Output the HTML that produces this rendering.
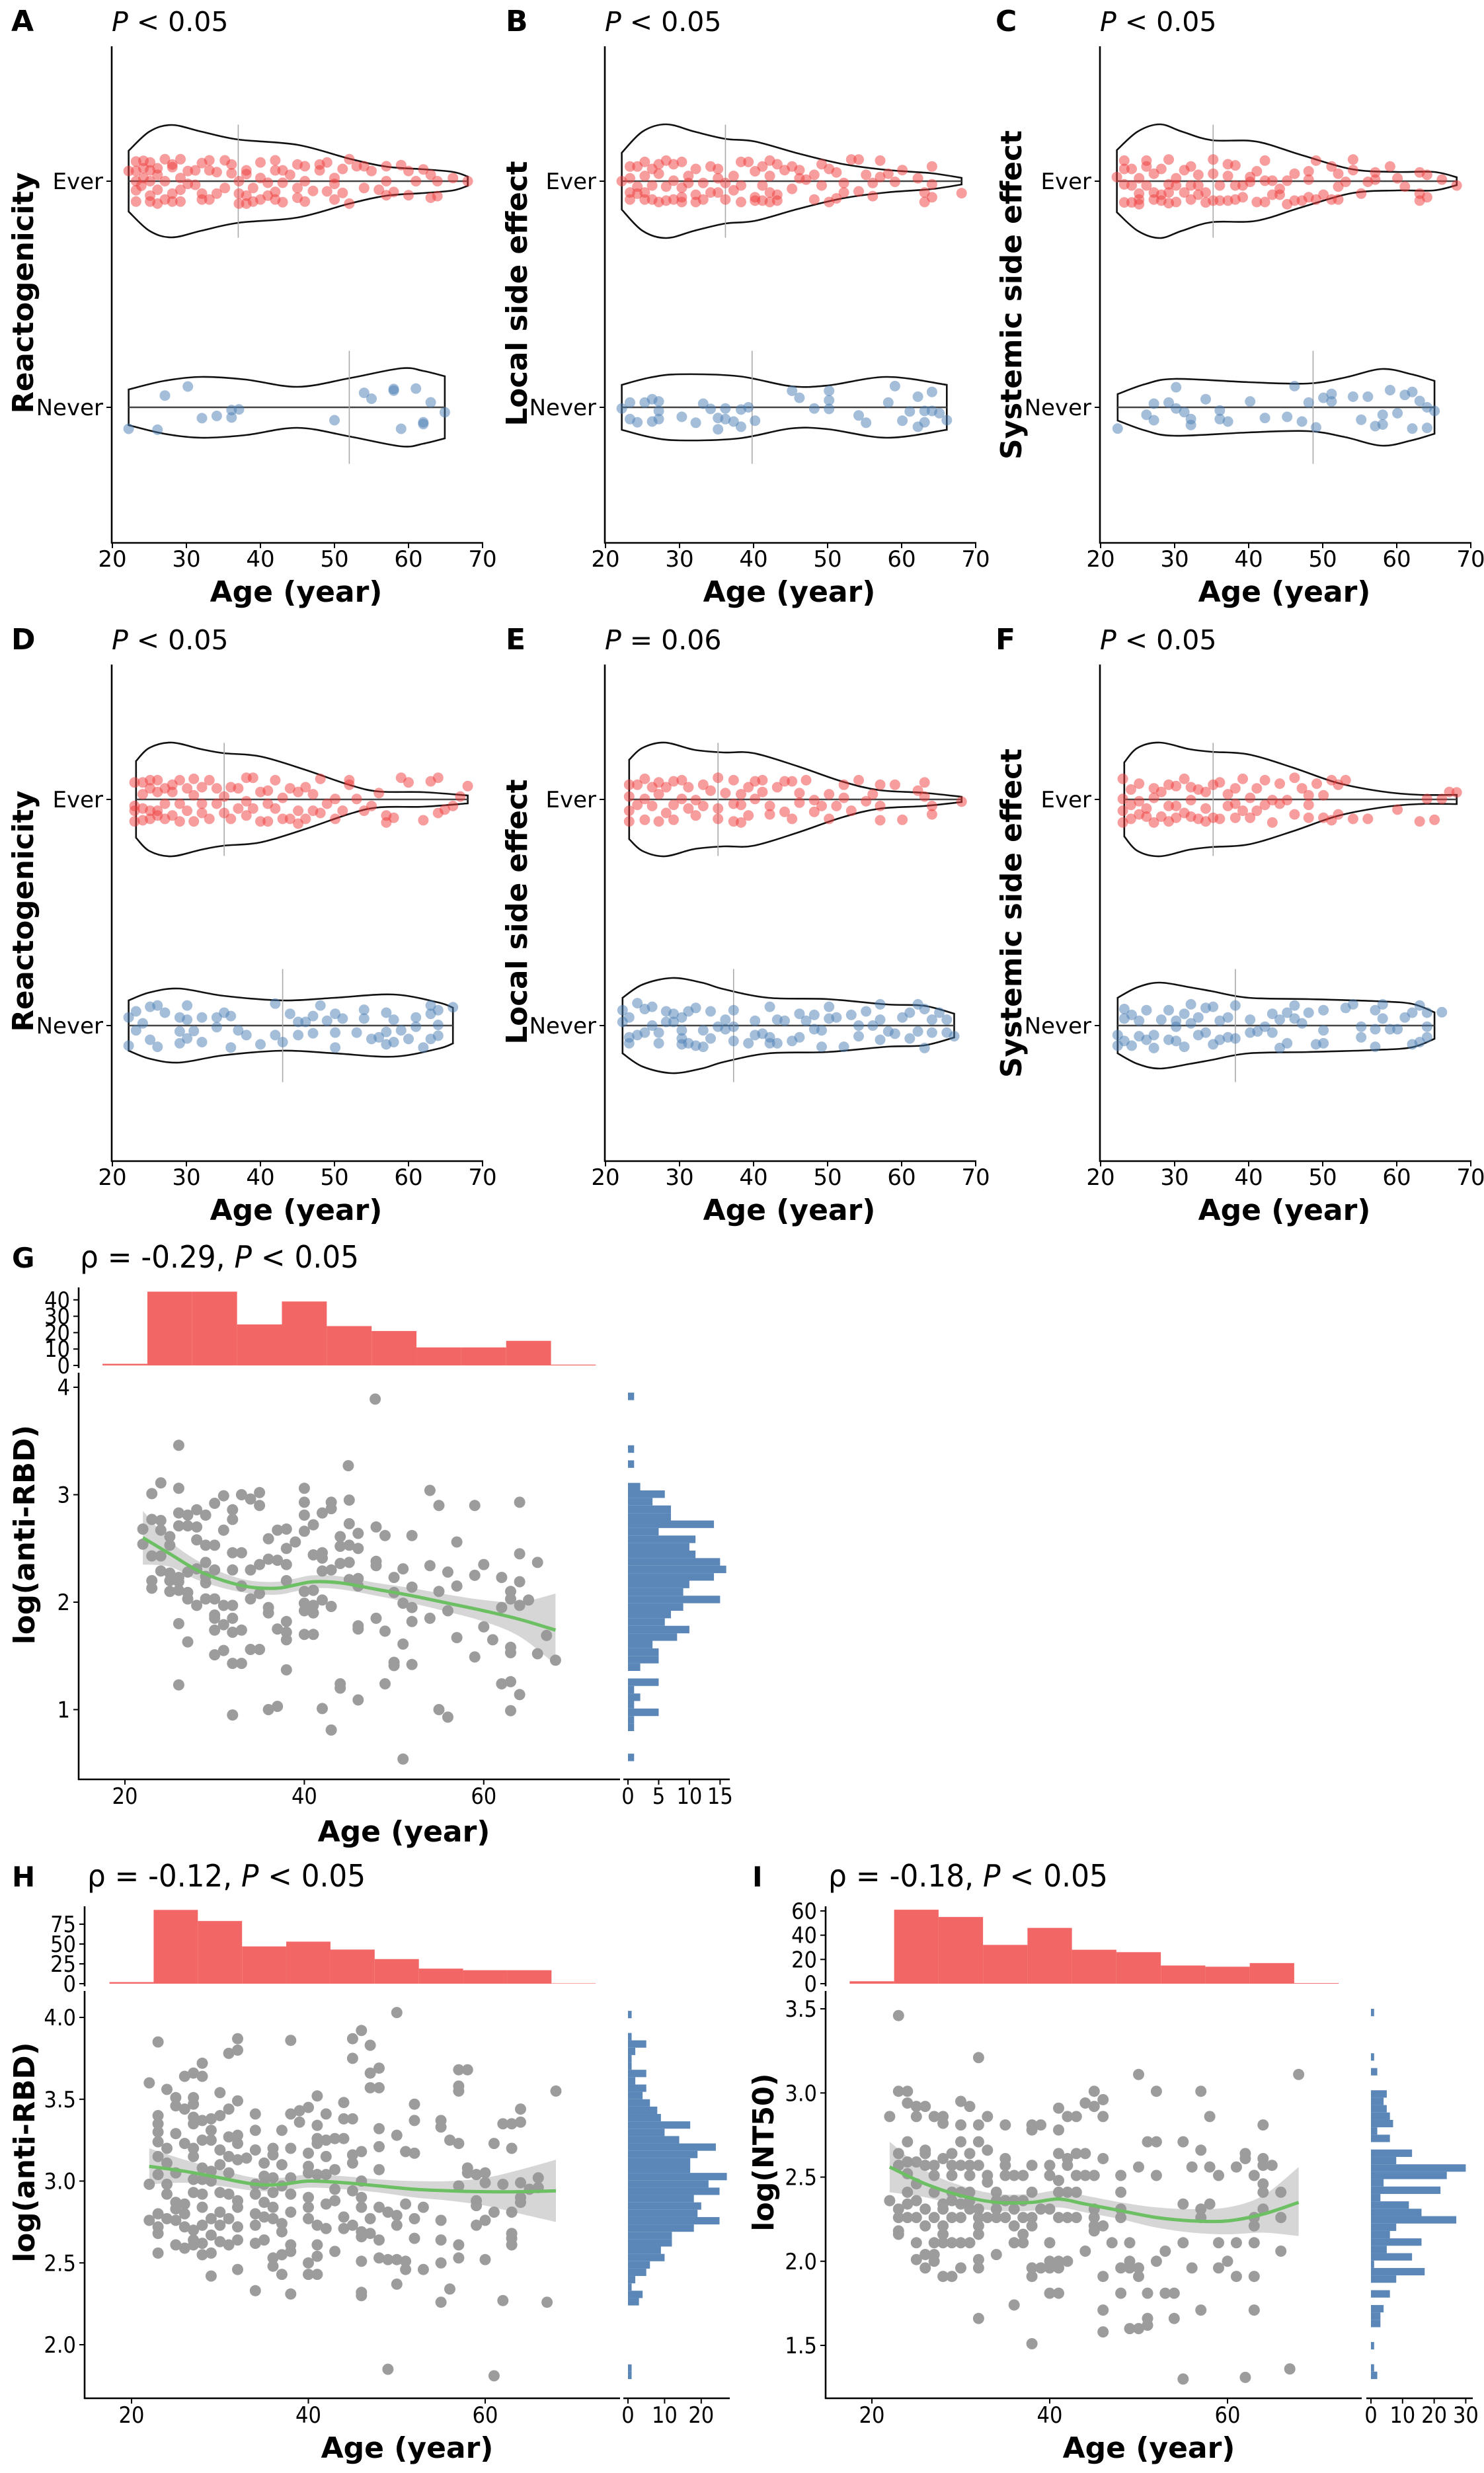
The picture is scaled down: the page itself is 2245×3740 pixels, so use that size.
<!DOCTYPE html>
<html><head><meta charset="utf-8"><title>Age vs reactogenicity and antibody figure</title>
<style>
html,body{margin:0;padding:0;background:#fff;}
svg{display:block;}
.t{font-family:"DejaVu Sans","Liberation Sans",sans-serif;fill:#000;}
.c{font-family:"DejaVu Sans Condensed","DejaVu Sans","Liberation Sans Narrow",sans-serif;font-stretch:condensed;fill:#000;}
.b{font-family:"DejaVu Sans","Liberation Sans",sans-serif;font-weight:bold;fill:#000;}
</style></head>
<body>
<svg id="fig" xmlns="http://www.w3.org/2000/svg" width="2245" height="3740" viewBox="0 0 2245 3740">
<rect x="0" y="0" width="2245" height="3740" fill="#fff"/>
<text class="b" x="17" y="47" font-size="44">A</text>
<text class="t" x="169" y="47" font-size="41"><tspan font-style="italic">P</tspan> &lt; 0.05</text>
<text class="b" x="765" y="47" font-size="44">B</text>
<text class="t" x="915" y="47" font-size="41"><tspan font-style="italic">P</tspan> &lt; 0.05</text>
<text class="b" x="1506" y="47" font-size="44">C</text>
<text class="t" x="1664" y="47" font-size="41"><tspan font-style="italic">P</tspan> &lt; 0.05</text>
<text class="b" x="17" y="982" font-size="44">D</text>
<text class="t" x="169" y="982" font-size="41"><tspan font-style="italic">P</tspan> &lt; 0.05</text>
<text class="b" x="765" y="982" font-size="44">E</text>
<text class="t" x="915" y="982" font-size="41"><tspan font-style="italic">P</tspan> = 0.06</text>
<text class="b" x="1506" y="982" font-size="44">F</text>
<text class="t" x="1664" y="982" font-size="41"><tspan font-style="italic">P</tspan> &lt; 0.05</text>
<text class="b" x="448" y="910" font-size="44" text-anchor="middle">Age (year)</text>
<text class="b" x="1194" y="910" font-size="44" text-anchor="middle">Age (year)</text>
<text class="b" x="1943" y="910" font-size="44" text-anchor="middle">Age (year)</text>
<text class="b" x="448" y="1845" font-size="44" text-anchor="middle">Age (year)</text>
<text class="b" x="1194" y="1845" font-size="44" text-anchor="middle">Age (year)</text>
<text class="b" x="1943" y="1845" font-size="44" text-anchor="middle">Age (year)</text>
<text class="b" font-size="44" text-anchor="middle" textLength="365" lengthAdjust="spacingAndGlyphs" transform="translate(50,443) rotate(-90)">Reactogenicity</text>
<text class="b" font-size="44" text-anchor="middle" textLength="401" lengthAdjust="spacingAndGlyphs" transform="translate(797,444) rotate(-90)">Local side effect</text>
<text class="b" font-size="44" text-anchor="middle" textLength="498" lengthAdjust="spacingAndGlyphs" transform="translate(1545,446) rotate(-90)">Systemic side effect</text>
<text class="b" font-size="44" text-anchor="middle" textLength="365" lengthAdjust="spacingAndGlyphs" transform="translate(50,1378) rotate(-90)">Reactogenicity</text>
<text class="b" font-size="44" text-anchor="middle" textLength="401" lengthAdjust="spacingAndGlyphs" transform="translate(797,1379) rotate(-90)">Local side effect</text>
<text class="b" font-size="44" text-anchor="middle" textLength="498" lengthAdjust="spacingAndGlyphs" transform="translate(1545,1381) rotate(-90)">Systemic side effect</text>
<text class="b" x="18" y="1917" font-size="42">G</text>
<text class="c" x="121" y="1917" font-size="46" textLength="422" lengthAdjust="spacingAndGlyphs">ρ = -0.29, <tspan font-style="italic">P</tspan> &lt; 0.05</text>
<text class="b" x="18" y="2853" font-size="42">H</text>
<text class="c" x="132" y="2853" font-size="46" textLength="421" lengthAdjust="spacingAndGlyphs">ρ = -0.12, <tspan font-style="italic">P</tspan> &lt; 0.05</text>
<text class="b" x="1138" y="2853" font-size="42">I</text>
<text class="c" x="1253" y="2853" font-size="46" textLength="423" lengthAdjust="spacingAndGlyphs">ρ = -0.18, <tspan font-style="italic">P</tspan> &lt; 0.05</text>
<text class="b" x="611" y="2785" font-size="44" text-anchor="middle">Age (year)</text>
<text class="b" x="616" y="3717" font-size="44" text-anchor="middle">Age (year)</text>
<text class="b" x="1738" y="3717" font-size="44" text-anchor="middle">Age (year)</text>
<text class="b" font-size="44" text-anchor="middle" textLength="332" lengthAdjust="spacingAndGlyphs" transform="translate(52,2321) rotate(-90)">log(anti-RBD)</text>
<text class="b" font-size="44" text-anchor="middle" textLength="333" lengthAdjust="spacingAndGlyphs" transform="translate(52,3255) rotate(-90)">log(anti-RBD)</text>
<text class="b" font-size="44" text-anchor="middle" textLength="239" lengthAdjust="spacingAndGlyphs" transform="translate(1170,3255) rotate(-90)">log(NT50)</text>
<g id="plots"></g>
</svg>
<script>
const ageTicks = [20,30,40,50,60,70];
const catLabels = ["Never","Ever"];
const aEverAge=[23.2,23.2,23.2,23.2,23.2,22.2,23.9,24.2,24.2,24.2,25.1,25.1,25.1,25.1,25.1,26.1,26.1,26.1,26.1,27.1,27.1,27.1,28.1,28.1,28.1,28.1,29.2,29.2,29.2,29.2,30.2,30.2,31.2,31.2,32.1,32.1,32.1,33.1,33.1,33.1,34.1,34.1,35.2,35.2,36.1,36.1,37.1,37.1,37.1,38.1,38.1,38.1,38.1,39,39,40,40,40,41,41,42,42,42,42,43,43,43,44,45,45,45,46,46,46,47.1,48,48,49,49,50,50,50,51.1,51.1,52,52,53,54,54,55,56,57,57,57,58,59,60,60,61,62,63,63,63.9,63.9,66,68];
const aEverJit=[-0.09,-0.04,0,0.045,0.087,0.045,-0.02,0.014,0.057,0.09,-0.09,-0.064,0,0.048,0.083,-0.099,-0.038,0.028,0.057,-0.081,0,0.097,-0.09,-0.055,0.062,0.074,-0.09,-0.038,0.014,0.097,-0.012,0.045,-0.016,0.048,-0.081,-0.055,0.08,-0.081,0.048,0.092,-0.055,0.04,-0.03,0.092,0.035,0.074,-0.099,-0.055,0,-0.099,-0.064,0.031,0.048,-0.09,-0.03,-0.081,0.014,0.083,-0.064,-0.007,-0.081,-0.047,0.048,0.092,-0.093,-0.007,0.048,0.028,-0.073,-0.03,0.074,-0.09,0,0.066,-0.043,0.048,0.074,-0.045,0.083,-0.081,-0.012,0.014,-0.052,0.054,-0.099,0.097,0.066,-0.03,0.066,0.045,-0.038,-0.062,0,0.066,-0.048,0.071,-0.062,0.045,0,0.052,-0.073,0.028,-0.066,0,0.014,0];
const aNeverAge=[22.2,26.1,27.1,30.2,32.1,34.1,36.1,36.1,37.1,50,54,55,58,58,59,61,62,62,63,64.9];
const aNeverJit=[-0.095,-0.099,0.052,0.092,-0.048,-0.038,-0.045,-0.012,-0.009,-0.057,0.064,0.038,0.074,0.081,-0.095,0.083,-0.074,-0.066,0.022,-0.022];
const aEverVAge=[22.2,25,28,32,37,45,52,57,62,66,68];
const aEverVDen=[46,75,85,75,63,55,34,22,18,14,7];
const aNeverVAge=[22.2,27,32,38,45,52,59,62,64.9];
const aNeverVDen=[27,40,46,42,31,44,59,55,47];
const aMedian=[52,37];
const bEverAge=[22.2,23.3,23.3,23.3,23.3,24.3,24.3,24.3,25.3,25.3,25.3,25.3,26.3,26.3,26.3,27.2,27.2,27.2,28.2,28.2,28.2,29.2,29.2,29.2,30.3,30.3,30.3,30.3,31.2,31.2,32.2,32.2,32.2,33.2,33.2,34.2,34.2,35.2,35.2,35.2,36.2,36.2,37.3,37.3,38.3,38.3,38.3,39.3,40.2,40.2,40.2,41.2,41.2,41.2,42.2,42.2,42.2,42.2,43.2,43.2,43.2,44.2,45.2,45.2,46.2,46.2,47.1,48.2,48.2,49.2,49.2,50.2,50.2,51.2,51.2,52.2,52.2,53.2,54.2,54.2,55.2,56.1,56.1,57.1,57.1,58.2,59.1,60.1,62.2,63.1,63.1,64.1,64.1,64.1,68.1];
const bEverJit=[0,-0.081,-0.05,0.013,0.065,-0.055,-0.024,0.065,-0.081,-0.05,0.023,0.085,-0.081,-0.019,0.054,-0.092,0.033,0.075,-0.086,-0.024,0.091,-0.081,0.002,0.075,-0.092,-0.071,-0.029,0.085,-0.008,0.023,-0.092,-0.06,0.054,-0.081,-0.008,-0.05,0.065,-0.05,0.013,0.054,-0.081,-0.008,-0.04,0.023,-0.092,-0.019,0.085,0.085,-0.086,-0.071,0.044,-0.086,-0.019,0.065,-0.092,-0.05,0.023,0.091,-0.086,-0.06,0.075,0.049,-0.034,0.065,0.013,0.049,0.007,-0.081,0.028,-0.019,0.075,-0.092,0.054,-0.076,0.039,-0.05,-0.008,0.096,-0.045,0.096,0.028,-0.066,-0.008,0.018,0.091,0.033,-0.003,0.049,0.013,-0.092,-0.05,-0.071,-0.014,0.065,-0.053];
const bNeverAge=[22.2,23.3,23.3,24.3,25.3,26.3,26.3,27.2,27.2,27.2,30.3,32.2,33.2,34.2,35.2,35.2,36.2,36.2,37.3,38.3,38.3,39.3,40.2,45.2,46.2,48.2,50.2,50.2,50.2,54.2,55.2,58.2,59.1,60.1,61.1,62.2,62.2,63.1,63.1,64.1,64.1,65.1,66.1];
const bNeverJit=[-0.005,-0.052,0.021,-0.066,0.021,-0.063,0.036,-0.052,-0.016,0.026,-0.042,-0.068,0.016,-0.007,-0.097,-0.047,-0.052,-0.005,-0.063,-0.086,-0.01,0,-0.059,0.073,0.042,-0.005,-0.007,0.031,0.073,-0.036,-0.068,0.021,0.094,-0.059,-0.018,-0.086,0.047,-0.066,-0.016,-0.016,0.068,-0.026,-0.057];
const bEverVAge=[22.2,25,28.2,32,36.2,40.2,46,52,58,64,68.1];
const bEverVDen=[43,75,86,75,64,60,42,26,17,12,5];
const bNeverVAge=[22.2,26,30,38,45,50,58,66.1];
const bNeverVDen=[34,45,50,47,32,33,46,34];
const bMedian=[39.8,36.2];
const cEverAge=[22.2,23.2,23.2,23.2,23.2,24.2,24.2,24.2,25.2,25.2,25.2,25.2,26.2,26.2,26.2,27.2,27.2,27.2,28.2,28.2,28.2,29.2,29.2,29.2,29.2,30.2,30.2,30.2,31.3,31.3,32.2,32.2,32.2,33.2,33.2,33.2,34.2,34.2,35.2,35.2,35.2,36.1,36.1,37.2,37.2,37.2,38.2,38.2,38.2,39.2,39.2,40.2,40.2,41.1,41.1,42.2,42.2,42.2,43.2,43.2,44.2,44.2,45.2,45.2,46.2,46.2,47.2,48.1,48.1,48.1,49.1,49.1,50.1,51.2,51.2,52.1,52.1,52.1,53.1,54.1,54.1,55.2,56.1,57.1,57.1,59.1,60.1,61.1,63.1,63.1,63.1,64.1,64.1,66.1,68.1];
const cEverJit=[0.018,-0.094,-0.014,0.054,0.091,-0.094,-0.019,0.054,-0.102,-0.081,-0.055,0.013,-0.019,0.065,0.091,-0.081,-0.05,0.033,-0.086,-0.06,0.054,-0.097,-0.05,-0.014,0.096,-0.092,-0.019,0.013,-0.05,0.049,-0.081,-0.019,0.065,-0.06,-0.019,0.028,-0.094,-0.05,-0.086,0.033,0.096,-0.086,-0.019,-0.086,0.023,0.075,-0.081,-0.019,0.07,-0.071,-0.019,-0.003,0.018,-0.092,0.044,-0.092,0.002,0.091,-0.06,0.002,-0.06,-0.034,-0.102,0.002,-0.086,0.033,-0.086,-0.071,0.007,0.044,-0.081,0.091,-0.06,-0.081,0.065,-0.081,-0.024,0.033,-0.003,0.049,0.096,-0.055,-0.003,0.039,0.007,0.065,0.013,-0.024,-0.086,-0.055,0.039,-0.071,0.028,0.007,-0.019];
const cNeverAge=[22.3,26.2,27.2,27.2,29.2,30.2,30.2,31.3,32.2,32.2,34.2,36.1,36.1,37.2,40.2,42.2,45.2,46.2,47.2,48.1,49.1,50.1,51.2,51.2,54.1,55.2,56.1,57.1,58.1,58.1,59.1,60.1,61.1,62.1,62.1,63.1,64.1,64.1,65.1];
const cNeverJit=[-0.094,-0.033,-0.057,0.016,0.021,-0.005,0.089,-0.021,-0.078,-0.052,0.036,-0.052,-0.014,-0.063,0.026,-0.047,-0.042,0.094,-0.063,0.021,-0.089,0.042,0.026,0.059,0.047,-0.055,0.047,-0.083,-0.076,-0.033,0.076,-0.026,0.055,-0.094,0.068,0.028,-0.091,0,-0.016];
const cEverVAge=[22.2,25,28,31,35,41,47,54,60,65,68.1];
const cEverVDen=[47,75,86,75,62,60,40,18,14,14,6];
const cNeverVAge=[22.3,26,30,40,48,53,58,62,65.1];
const cNeverVDen=[20,35,43,38,36,45,58,50,40];
const cMedian=[48.7,35.2];
const dEverAge=[23,23,23,23,24.1,24.1,24.1,24.1,25.1,25.1,25.1,25.1,26.1,26.1,26.1,26.1,27.1,27.1,27.1,28.1,28.1,28.1,29.1,29.1,29.1,30.1,30.1,31,31,31,32.1,32.1,32.1,33.1,33.1,34.1,34.1,35.1,35.1,36,36,37,37,38.1,38.1,38.1,39,39,40,40,41,41,41,42,42,43,43,44,44,45.1,45.1,45.1,46.1,46.1,47.1,47.1,48.1,48.1,49,50.1,50.1,51.1,52,52,53,54,55,56,57,57,58,59,60,62,63,64,64,64.9,66,67,68];
const dEverJit=[-0.097,-0.05,-0.029,0.075,-0.092,-0.04,0.023,0.075,-0.086,-0.05,0.049,0.085,-0.071,-0.05,0.033,0.085,-0.086,-0.019,0.049,-0.071,0.033,0.065,-0.097,-0.019,0.085,-0.05,0.049,-0.097,0.018,0.091,-0.06,-0.019,0.054,-0.086,0.085,-0.019,0.049,-0.06,0.013,-0.086,0.054,-0.04,0.049,-0.071,-0.008,0.096,-0.04,0.096,-0.097,0.033,-0.097,-0.019,0.039,-0.04,0.085,-0.086,0.007,-0.086,0.049,-0.107,-0.05,0.033,-0.086,0.054,-0.05,0.023,-0.06,0.091,-0.019,0.002,-0.086,-0.05,0.065,0.085,0.002,-0.05,-0.029,0.028,-0.102,-0.071,-0.081,0.096,0.075,-0.092,0.08,-0.06,0.096,-0.045,-0.029,0.013,0.059];
const dNeverAge=[22.2,22.2,23.2,23.2,24.1,25.1,25.1,26.1,26.1,27.1,29.1,29.1,29.1,30.1,30.1,30.1,31,32.1,32.1,34.1,34.1,35.1,36,36,37,38.1,40,42,42,43,44,45.1,45.1,46.1,47.1,47.1,48.1,49,50.1,50.1,50.1,51.1,53,54,54,55,56,57,57,57,58,58,59,60,61,61,62,63,63,63,64,64,64,66];
const dNeverJit=[-0.089,0.036,-0.021,0.063,0.01,-0.063,0.083,-0.094,0.089,0.057,-0.078,-0.026,0.036,-0.057,0.026,0.089,-0.024,-0.073,0.036,-0.007,0.036,0.057,-0.097,0.042,-0.021,-0.042,-0.083,-0.042,0.097,-0.073,0.052,-0.042,0.016,0.016,-0.034,0.042,0.089,0.021,-0.097,-0.031,0.052,0.031,-0.031,0.031,0.07,-0.059,-0.052,-0.083,-0.028,0.057,-0.073,0.026,-0.021,-0.059,-0.005,0.036,-0.097,-0.059,0.052,0.089,-0.045,0.003,0.068,0.081];
const dEverVAge=[23.2,25,28,32,35,40,46,52,56,62,68];
const dEverVDen=[58,78,86,76,70,65,45,22,12,11,6];
const dNeverVAge=[22.2,25,29,35,43,50,58,64,66];
const dNeverVDen=[38,50,56,45,38,42,47,35,27];
const dMedian=[43.0,35.1];
const eEverAge=[23.2,23.2,23.2,23.2,24.3,24.3,25.3,25.3,25.3,26.3,26.3,27.2,27.2,27.2,28.2,28.2,29.2,29.2,29.2,30.3,30.3,31.2,31.2,32.2,32.2,33.2,33.2,34.2,35.2,35.2,35.2,36.2,37.3,37.3,37.3,38.3,38.3,38.3,39.3,39.3,40.2,40.2,41.2,41.2,42.2,42.2,43.2,44.2,44.2,45.2,45.2,46.2,46.2,47.1,48.2,48.2,49.2,50.2,50.2,51.2,52.2,52.2,53.2,54.2,55.2,56.1,57.1,57.1,57.1,59.1,60.1,62.2,63.1,63.1,64.1,64.1,68.1];
const eEverJit=[-0.097,-0.05,0.013,0.065,-0.024,0.065,-0.09,0.002,0.091,-0.029,0.054,-0.097,0.023,0.075,-0.06,0.054,-0.09,-0.024,0.08,0.002,0.085,-0.04,0.054,-0.071,-0.003,-0.029,0.065,0.039,-0.086,-0.04,0.096,0.028,-0.097,-0.019,0.085,-0.102,-0.024,0.023,-0.071,0.054,0.002,0.08,0.033,0.085,-0.066,-0.029,0.054,-0.055,0.08,-0.086,0.08,-0.014,0.028,0.085,-0.055,-0.003,-0.029,-0.086,0.023,-0.029,0.007,0.065,-0.05,0.085,-0.008,0.023,-0.092,-0.029,0.065,0.065,-0.09,0.039,0.013,0.075,-0.066,-0.029,-0.01];
const eNeverAge=[22.3,22.3,23.2,23.2,23.2,24.3,24.3,25.3,25.3,26.3,26.3,27.2,27.2,28.2,28.2,29.2,29.2,30.3,30.3,30.3,30.3,31.2,31.2,32.2,32.2,33.2,33.2,34.2,34.2,35.2,36.2,36.2,37.3,37.3,37.3,39.3,40.2,40.2,41.2,42.2,42.2,42.2,43.2,43.2,44.2,45.2,46.2,46.2,47.1,48.2,48.2,49.2,49.2,50.2,50.2,51.2,52.2,53.2,54.2,54.2,55.2,56.1,57.1,57.1,57.1,58.2,59.1,60.1,61.1,61.1,62.2,62.2,63.1,63.1,64.1,64.1,65.1,66.1,66.1,67.1];
const eNeverJit=[0.016,0.068,-0.078,-0.052,0.036,-0.042,0.099,-0.031,0.073,0,0.083,-0.078,-0.031,0.016,0.063,0.016,0.052,-0.083,-0.057,-0.021,0.036,-0.078,0.063,-0.089,0.078,-0.094,-0.021,-0.057,0.063,-0.005,-0.016,0.026,-0.068,-0.005,0.068,-0.078,-0.042,0.021,-0.036,-0.078,-0.052,0.083,-0.078,0.026,0.021,-0.068,-0.052,0.052,0.021,-0.016,0.047,-0.094,-0.021,0.031,0.083,0.036,-0.094,0.047,-0.047,0,0.063,0,-0.063,0.026,0.094,-0.026,-0.036,0.036,-0.057,0.057,-0.026,0.094,-0.099,0.073,-0.031,0.026,0.057,-0.031,0.026,-0.047];
const eEverVAge=[23.2,25,28,32,36,40,46,52,57,63,68.1];
const eEverVDen=[60,78,86,75,71,70,50,27,14,10,4];
const eNeverVAge=[22.3,25,29,33,36,42,50,58,63,67.1];
const eNeverVDen=[42,62,72,65,55,42,40,32,30,18];
const eMedian=[37.3,35.2];
const fEverAge=[23,23,23,23,24.1,24.1,24.1,25.2,25.2,25.2,26.2,26.2,27.2,27.2,27.2,28.2,28.2,29.2,29.2,29.2,30.2,30.2,30.2,31.3,31.3,32.2,32.2,32.2,33.2,33.2,34.2,34.2,34.2,35.2,35.2,36.1,36.1,37.2,37.2,38.2,38.2,38.2,39.2,39.2,40.2,40.2,41.1,41.1,42.2,42.2,43.2,43.2,44.2,44.2,45.2,46.2,46.2,47.2,48.1,48.1,48.1,49.2,50.1,50.1,51.2,51.2,52.1,52.1,53.1,54.1,56.1,60.1,63.1,64.1,65.1,66.1,67.1,68.1];
const fEverJit=[-0.102,-0.05,0.002,0.091,-0.086,-0.024,0.044,-0.066,-0.008,0.07,-0.076,-0.04,-0.102,0.007,0.049,-0.076,0.033,-0.097,-0.029,0.065,-0.081,-0.029,0.059,-0.06,0.091,-0.076,-0.003,0.054,-0.086,0.044,-0.097,-0.04,0.033,-0.081,0.065,-0.086,0.075,-0.029,0.023,-0.081,-0.019,0.049,-0.05,0.091,-0.081,0.007,-0.05,0.049,-0.024,0.085,-0.102,-0.003,-0.019,0.07,-0.003,-0.066,0.096,0.049,-0.081,-0.024,0.018,0.07,-0.081,0.018,-0.092,0.085,-0.066,0.065,0.085,-0.086,-0.086,-0.045,-0.097,0.002,-0.09,0.002,0.033,0.031];
const fNeverAge=[22.3,22.3,23.2,23.2,23.2,24.2,24.2,25.2,25.2,26.2,26.2,27.2,27.2,28.2,29.2,29.2,30.2,30.2,30.2,31.3,31.3,32.2,32.2,33.2,33.2,34.2,34.2,35.2,35.2,36.1,36.1,37.2,37.2,38.2,38.2,40.2,40.2,41.2,42.2,43.2,43.2,44.2,44.2,45.2,45.2,46.2,46.2,47.2,48.1,49.1,50.1,50.1,50.1,53.1,54.1,55.2,55.2,57.1,57.1,57.1,58.1,58.1,59.1,60.1,61.1,62.1,62.1,63.1,63.1,64.1,64.1,64.1,66.1];
const fNeverJit=[-0.089,-0.042,-0.068,0.031,0.073,-0.089,0.047,-0.047,0.021,-0.063,0.068,-0.099,-0.042,0.026,-0.063,0.068,-0.068,-0.005,0.021,-0.094,0.052,0.01,0.094,-0.042,0.036,-0.031,0.078,-0.083,0.083,-0.063,0.021,-0.052,0.036,-0.057,0.089,-0.031,0.026,-0.026,-0.005,-0.031,0.052,-0.099,0.026,-0.078,0.057,0.031,0.089,0.01,0.057,-0.083,-0.078,-0.021,0.068,0.078,0.094,-0.052,-0.005,-0.094,-0.016,0.068,0.031,0.094,-0.016,-0.016,0.036,-0.083,0.057,-0.073,0.089,-0.052,-0.005,0.057,0.059];
const fEverVAge=[23.2,25,28,32,35,40,46,52,58,63,68.1];
const fEverVDen=[56,78,86,76,72,68,48,25,12,7,7];
const fNeverVAge=[22.3,25,28,32,35,40,48,57,62,65.1];
const fNeverVDen=[42,58,65,58,52,42,40,37,33,20];
const fMedian=[38.2,35.2];

const histEdgeStart = 17.5, histEdgeWidth = 5;
const gAge=[47.9,26,44.9,24,23,26,31,33,35,40,54,45,43,30,34,35,55,59,64,40,26,27,28,29,32,32,40,42,43,23,24,22,24,26,27,28,31,37,38,40,41,45,48,25,28,36,44,46,49,52,57,22,25,29,30,39,38,45,44,46,23,24,32,33,41,42,36,37,35,38,29,42,44,45,48,64,66,60,54,24,25,30,32,34,42,43,48,51,56,59,62,26,27,28,29,46,50,23,25,26,29,38,45,64,23,33,46,52,57,25,26,27,40,41,50,55,63,35,27,29,30,34,42,63,65,28,31,32,40,41,43,51,62,64,36,36,40,41,52,56,30,30,32,48,54,38,52,26,31,30,32,33,37,38,46,46,49,60,40,41,38,67,57,27,61,51,34,35,31,63,63,59,30,66,68,32,33,50,50,52,38,26,44,44,49,62,63,64,46,37,36,42,55,63,32,56,43,51];
const gVal=[3.89,3.46,3.27,3.11,3.01,3.06,2.99,3.0,3.02,3.06,3.04,2.95,2.93,2.92,2.96,2.9,2.9,2.9,2.93,2.93,2.83,2.81,2.86,2.81,2.86,2.77,2.81,2.83,2.87,2.77,2.76,2.68,2.67,2.71,2.71,2.7,2.67,2.67,2.68,2.66,2.72,2.73,2.7,2.61,2.58,2.59,2.61,2.64,2.62,2.62,2.56,2.54,2.53,2.53,2.53,2.56,2.5,2.53,2.52,2.5,2.43,2.43,2.46,2.46,2.44,2.46,2.4,2.39,2.35,2.35,2.37,2.41,2.36,2.37,2.38,2.45,2.37,2.35,2.34,2.29,2.27,2.3,2.3,2.3,2.29,2.3,2.34,2.31,2.28,2.25,2.23,2.23,2.28,2.31,2.24,2.22,2.23,2.2,2.2,2.19,2.18,2.2,2.21,2.19,2.13,2.15,2.15,2.14,2.15,2.1,2.11,2.09,2.1,2.11,2.09,2.1,2.1,2.08,2.03,2.03,2.03,2.03,2.02,2.03,2.02,1.97,1.97,1.97,1.99,1.97,1.96,1.99,1.95,1.97,1.95,1.9,1.92,1.9,1.95,1.92,1.88,1.85,1.85,1.85,1.85,1.82,1.82,1.8,1.79,1.74,1.72,1.74,1.75,1.72,1.78,1.75,1.73,1.77,1.7,1.7,1.65,1.69,1.67,1.63,1.65,1.61,1.56,1.56,1.55,1.58,1.53,1.49,1.51,1.52,1.46,1.43,1.43,1.44,1.41,1.42,1.37,1.23,1.24,1.2,1.24,1.24,1.26,1.14,1.09,1.03,1.0,1.01,1.0,0.99,0.95,0.93,0.81,0.54];
const gFitAge=[22,25,28,31,34,37,39,41,44,48,52,56,60,64,68];
const gFitVal=[2.6,2.45,2.3,2.2,2.14,2.13,2.16,2.19,2.18,2.12,2.06,1.99,1.92,1.84,1.74];
const gFitLo=[2.35,2.33,2.21,2.13,2.08,2.07,2.1,2.13,2.12,2.06,1.99,1.91,1.82,1.68,1.42];
const gFitHi=[2.85,2.57,2.39,2.27,2.2,2.19,2.22,2.25,2.24,2.18,2.13,2.07,2.02,2.0,2.08];
const gTopCounts=[1,45,45,25,39,24,21,11,11,15,0.5];
const gRightStart=0.52, gRightWidth=0.07;
const gRightCounts=[1,0,0,0,1,1,5,1,2,1,5,0,2,5,5,4,8,10,6,7,9,15,9,10,14,16,15,11,10,11,5,14,7,7,4,6,2,0,0,1,0,1,0,0,0,0,0,0,1];
const gYTicks=[1,2,3,4];
const gTopTicks=[0,10,20,30,40];
const gRightTicks=[0,5,10,15];
const scatterXTicks=[20,40,60];
const hAge=[50,46,23,32,38,45,47,31,32,45,28,27,26,28,47,48,57,58,22,24,47,48,57,57,68,30,25,27,32,41,25,26,27,31,40,39,44,52,64,23,34,38,42,30,27,28,29,44,45,52,55,62,63,64,23,27,39,41,55,29,34,37,48,23,25,50,31,32,28,29,41,42,43,44,56,23,26,32,41,57,61,24,27,36,38,48,63,30,34,40,46,51,52,23,27,31,36,42,45,24,32,33,35,45,28,30,37,40,58,29,31,23,25,40,41,42,43,48,58,59,60,35,36,38,27,28,29,46,60,66,22,24,34,35,37,62,64,57,65,66,27,28,30,31,34,36,38,43,45,24,46,40,64,64,25,32,35,43,51,59,59,26,42,25,28,32,36,40,46,53,48,23,30,26,34,38,49,61,63,22,24,25,29,31,35,36,40,44,47,50,52,55,60,23,26,28,30,32,34,37,41,42,45,50,59,27,37,44,46,23,63,29,46,47,52,32,27,28,30,48,55,63,34,35,25,31,38,41,63,57,23,26,27,28,29,38,43,37,41,36,48,49,50,51,46,57,60,55,40,36,32,51,53,37,40,41,29,50,56,34,38,46,46,62,55,67,49,61];
const hVal=[4.03,3.92,3.85,3.87,3.86,3.87,3.83,3.78,3.8,3.75,3.72,3.66,3.64,3.64,3.66,3.69,3.68,3.68,3.6,3.56,3.57,3.57,3.58,3.55,3.55,3.54,3.51,3.51,3.49,3.52,3.46,3.44,3.47,3.44,3.45,3.43,3.48,3.47,3.44,3.4,3.41,3.41,3.41,3.4,3.39,3.37,3.38,3.38,3.38,3.37,3.37,3.35,3.35,3.36,3.35,3.35,3.36,3.34,3.33,3.31,3.31,3.31,3.32,3.3,3.29,3.28,3.27,3.28,3.25,3.25,3.26,3.25,3.26,3.26,3.25,3.24,3.23,3.23,3.23,3.23,3.23,3.2,3.2,3.2,3.2,3.21,3.2,3.19,3.19,3.17,3.18,3.18,3.17,3.15,3.15,3.15,3.16,3.15,3.16,3.11,3.13,3.14,3.11,3.11,3.08,3.1,3.1,3.09,3.08,3.06,3.05,3.04,3.05,3.05,3.04,3.04,3.07,3.07,3.05,3.04,3.05,3.03,3.02,3.02,3.01,3.01,3.0,3.0,2.99,3.02,2.98,2.98,2.98,2.98,2.97,2.98,2.99,2.97,2.95,2.96,2.93,2.92,2.93,2.92,2.92,2.93,2.92,2.95,2.94,2.92,2.9,2.9,2.9,2.87,2.87,2.88,2.87,2.88,2.86,2.88,2.85,2.86,2.86,2.83,2.84,2.84,2.84,2.84,2.84,2.84,2.84,2.8,2.81,2.8,2.8,2.81,2.81,2.81,2.81,2.76,2.77,2.76,2.77,2.77,2.78,2.77,2.77,2.78,2.77,2.79,2.77,2.76,2.76,2.72,2.72,2.73,2.73,2.72,2.73,2.74,2.73,2.71,2.73,2.73,2.73,2.7,2.69,2.71,2.69,2.68,2.68,2.67,2.66,2.68,2.65,2.64,2.64,2.62,2.63,2.64,2.64,2.65,2.62,2.64,2.61,2.61,2.61,2.61,2.61,2.61,2.56,2.59,2.61,2.55,2.56,2.57,2.57,2.55,2.54,2.53,2.53,2.52,2.52,2.51,2.51,2.53,2.52,2.5,2.5,2.48,2.46,2.46,2.46,2.43,2.43,2.43,2.42,2.37,2.34,2.33,2.31,2.32,2.3,2.27,2.26,2.26,1.85,1.81];
const hFitAge=[22,26,30,34,37,40,44,48,52,56,60,64,68];
const hFitVal=[3.09,3.06,3.02,2.98,2.98,3.0,2.99,2.97,2.95,2.94,2.935,2.935,2.94];
const hFitLo=[2.98,2.99,2.97,2.94,2.94,2.96,2.95,2.93,2.9,2.88,2.85,2.8,2.75];
const hFitHi=[3.2,3.13,3.07,3.02,3.02,3.04,3.03,3.01,3.0,3.0,3.02,3.07,3.13];
const hTopCounts=[2,93,79,47,53,43,31,19,17,17,0.5];
const hRightStart=1.79, hRightWidth=0.045;
const hRightCounts=[1,1,0,0,0,0,0,0,0,0,3,4,1,2,5,6,10,9,12,12,18,25,19,20,18,25,22,27,17,17,19,24,14,10,17,9,8,6,4,5,2,5,1,1,2,5,1,0,0,1];
const hYTicks=[2.0,2.5,3.0,3.5,4.0];
const hTopTicks=[0,25,50,75];
const hRightTicks=[0,10,20];
const iAge=[23,32,50,68,23,24,45,52,57,24,30,25,26,31,41,44,45,46,22,25,27,28,33,42,43,46,58,28,30,32,35,38,39,38,41,64,24,30,32,51,52,55,26,33,57,23,26,29,31,41,43,44,62,28,35,42,46,62,64,24,25,23,26,27,29,30,31,32,35,38,40,42,50,56,58,61,64,65,24,27,29,31,33,35,36,37,40,43,44,45,48,52,59,63,33,41,64,25,27,29,30,31,34,38,41,42,43,48,64,66,24,25,29,31,34,35,36,37,22,28,24,55,58,30,23,26,28,31,32,34,36,39,40,45,48,57,64,23,24,25,27,29,30,32,33,34,35,37,38,41,42,43,45,48,57,63,66,26,28,32,36,38,45,46,63,23,23,28,32,37,45,25,27,28,29,30,31,36,37,40,47,49,55,59,61,63,44,53,66,26,27,34,25,27,32,40,41,42,49,52,60,26,30,32,38,39,40,41,48,50,56,59,49,28,29,38,46,50,61,63,40,41,48,51,53,54,36,46,57,63,32,51,54,49,50,51,46,38,55,62,67];
const iVal=[3.46,3.21,3.11,3.11,3.01,3.01,3.01,3.01,3.01,2.94,2.95,2.92,2.92,2.92,2.91,2.94,2.92,2.96,2.86,2.86,2.86,2.86,2.86,2.86,2.86,2.86,2.86,2.82,2.81,2.81,2.81,2.81,2.81,2.78,2.78,2.81,2.71,2.71,2.71,2.71,2.71,2.71,2.66,2.66,2.66,2.64,2.64,2.64,2.64,2.64,2.64,2.64,2.64,2.61,2.61,2.61,2.61,2.61,2.61,2.59,2.59,2.57,2.57,2.57,2.57,2.57,2.57,2.57,2.57,2.57,2.57,2.57,2.56,2.56,2.56,2.56,2.57,2.57,2.52,2.51,2.51,2.51,2.51,2.51,2.51,2.51,2.51,2.51,2.51,2.51,2.51,2.51,2.51,2.51,2.47,2.48,2.46,2.46,2.41,2.41,2.41,2.41,2.41,2.41,2.41,2.41,2.41,2.41,2.41,2.41,2.41,2.36,2.36,2.36,2.36,2.36,2.36,2.36,2.36,2.34,2.34,2.34,2.34,2.34,2.31,2.31,2.31,2.31,2.31,2.31,2.31,2.31,2.31,2.31,2.31,2.31,2.31,2.26,2.26,2.26,2.26,2.26,2.26,2.26,2.26,2.26,2.26,2.26,2.26,2.26,2.26,2.26,2.26,2.26,2.26,2.26,2.26,2.21,2.21,2.21,2.21,2.21,2.21,2.21,2.21,2.18,2.16,2.16,2.16,2.16,2.18,2.11,2.11,2.11,2.11,2.11,2.11,2.11,2.11,2.11,2.11,2.11,2.11,2.11,2.11,2.11,2.06,2.06,2.06,2.04,2.04,2.04,2.01,2.0,2.01,2.0,2.0,2.0,2.0,2.0,2.0,1.96,1.96,1.96,1.96,1.96,1.96,1.96,1.96,1.96,1.96,1.96,1.96,1.91,1.91,1.91,1.91,1.91,1.91,1.91,1.81,1.81,1.81,1.81,1.81,1.81,1.74,1.71,1.71,1.71,1.66,1.66,1.66,1.6,1.6,1.62,1.58,1.51,1.3,1.31,1.36];
const iFitAge=[22,26,30,34,38,41,44,48,52,56,60,64,68];
const iFitVal=[2.56,2.46,2.39,2.35,2.35,2.37,2.34,2.3,2.26,2.24,2.24,2.28,2.35];
const iFitLo=[2.41,2.38,2.33,2.3,2.3,2.32,2.29,2.25,2.2,2.17,2.16,2.17,2.15];
const iFitHi=[2.71,2.54,2.45,2.4,2.4,2.42,2.39,2.35,2.32,2.31,2.32,2.39,2.56];
const iTopCounts=[2,61,55,32,46,28,26,15,14,17,0.5];
const iRightStart=1.30, iRightWidth=0.044;
const iRightCounts=[2,1,0,0,1,0,0,3,3,4,0,6,0,8,17,1,13,5,16,6,8,27,16,12,3,22,4,24,30,8,13,0,6,2,7,6,5,4,5,0,0,2,0,1,0,0,0,0,0,1];
const iYTicks=[1.5,2.0,2.5,3.0,3.5];
const iTopTicks=[0,20,40,60];
const iRightTicks=[0,10,20,30];

const NS='http://www.w3.org/2000/svg';
const root=document.getElementById('plots');
function mk(tag,attrs,parent){const e=document.createElementNS(NS,tag);for(const k in attrs)e.setAttribute(k,attrs[k]);(parent||root).appendChild(e);return e;}
function smooth(pts){let d='';for(let i=0;i<pts.length-1;i++){const p0=pts[Math.max(i-1,0)],p1=pts[i],p2=pts[i+1],p3=pts[Math.min(i+2,pts.length-1)];
 const c1x=p1[0]+(p2[0]-p0[0])/6,c1y=p1[1]+(p2[1]-p0[1])/6,c2x=p2[0]-(p3[0]-p1[0])/6,c2y=p2[1]-(p3[1]-p1[1])/6;
 d+=` C${c1x.toFixed(1)},${c1y.toFixed(1)} ${c2x.toFixed(1)},${c2y.toFixed(1)} ${p2[0].toFixed(1)},${p2[1].toFixed(1)}`;}return d;}

function violinPanel(id, ox, oy, d){
 const g=mk('g',{});
 
 
 const xS=a=>ox+1+(a-20)*11.2;
 const yC=c=>oy+616-c*342;
 const groups=[{age:d.nAge,jit:d.nJit,va:d.nVA,vd:d.nVD,cat:0,col:'#4a7db3',nm:'never'},{age:d.eAge,jit:d.eJit,va:d.eVA,vd:d.eVD,cat:1,col:'#f03c3c',nm:'ever'}];
 groups.forEach(gr=>{
  const yc=yC(gr.cat);
  const top=gr.va.map((a,i)=>[xS(a),yc-gr.vd[i]]);
  const bot=gr.va.map((a,i)=>[xS(a),yc+gr.vd[i]]).reverse();
  let p=`M${top[0][0]},${yc} L${top[0][0].toFixed(1)},${top[0][1].toFixed(1)}`+smooth(top)+` L${bot[0][0].toFixed(1)},${bot[0][1].toFixed(1)}`+smooth(bot)+' Z';
  const v=mk('path',{d:p,fill:'none',stroke:'#111','stroke-width':2.6},g);
  
  
  const x0=xS(gr.va[0]),x1=xS(gr.va[gr.va.length-1]);
  const cl=mk('line',{x1:x0,x2:x1,y1:yc,y2:yc,stroke:'#444','stroke-width':2.6},g);
  
  
  const mx=xS(d.median[gr.cat]);
  const ml=mk('line',{x1:mx,x2:mx,y1:yC(gr.cat+0.25),y2:yC(gr.cat-0.25),stroke:'#aaa','stroke-width':1.6},g);
  
  
  const n=Math.min(gr.age.length,gr.jit.length);
  for(let i=0;i<n;i++){
   const c=mk('circle',{cx:xS(gr.age[i]).toFixed(1),cy:yC(gr.cat+gr.jit[i]).toFixed(1),r:8,fill:gr.col,'fill-opacity':0.5},g);
   
   
  }
  const tk=mk('line',{x1:ox-8,x2:ox,y1:yc,y2:yc,stroke:'#000','stroke-width':2},g);
  
  
  const tl=mk('text',{x:ox-13,y:yc+12,'font-size':34,'text-anchor':'end',class:'t'},g);
  tl.textContent=catLabels[gr.cat];
  
  
 });
 const ya=mk('line',{x1:ox,x2:ox,y1:oy+70,y2:oy+822,stroke:'#000','stroke-width':2.6},g);
 
 
 const xa=mk('line',{x1:ox-1,x2:ox+562,y1:oy+821,y2:oy+821,stroke:'#000','stroke-width':2.6},g);
 
 
 ageTicks.forEach(t=>{
  const tm=mk('line',{x1:xS(t),x2:xS(t),y1:oy+821,y2:oy+829,stroke:'#000','stroke-width':2},g);
  
  
  const tl=mk('text',{x:xS(t),y:oy+857,'font-size':34,'text-anchor':'middle',class:'t'},g);
  tl.textContent=String(t);
  
  
 });
}

violinPanel('a',169,0,{eAge:aEverAge,eJit:aEverJit,nAge:aNeverAge,nJit:aNeverJit,eVA:aEverVAge,eVD:aEverVDen,nVA:aNeverVAge,nVD:aNeverVDen,median:aMedian});
violinPanel('b',915,0,{eAge:bEverAge,eJit:bEverJit,nAge:bNeverAge,nJit:bNeverJit,eVA:bEverVAge,eVD:bEverVDen,nVA:bNeverVAge,nVD:bNeverVDen,median:bMedian});
violinPanel('c',1664,0,{eAge:cEverAge,eJit:cEverJit,nAge:cNeverAge,nJit:cNeverJit,eVA:cEverVAge,eVD:cEverVDen,nVA:cNeverVAge,nVD:cNeverVDen,median:cMedian});
violinPanel('d',169,935,{eAge:dEverAge,eJit:dEverJit,nAge:dNeverAge,nJit:dNeverJit,eVA:dEverVAge,eVD:dEverVDen,nVA:dNeverVAge,nVD:dNeverVDen,median:dMedian});
violinPanel('e',915,935,{eAge:eEverAge,eJit:eEverJit,nAge:eNeverAge,nJit:eNeverJit,eVA:eEverVAge,eVD:eEverVDen,nVA:eNeverVAge,nVD:eNeverVDen,median:eMedian});
violinPanel('f',1664,935,{eAge:fEverAge,eJit:fEverJit,nAge:fNeverAge,nJit:fNeverJit,eVA:fEverVAge,eVD:fEverVDen,nVA:fNeverVAge,nVD:fNeverVDen,median:fMedian});

function scatterPanel(id,L,D){
 const g=mk('g',{});
 
 
 const xS=a=>L.x20+(a-20)*L.pxYr;
 const yS=v=>L.yRef-(v-L.vRef)*L.pxV;
 const tS=c=>L.topBase-c*L.topPx;
 const rS=c=>L.rx0+c*L.rPx;
 D.top.forEach((c,i)=>{
  if(c<=0)return;
  const a0=histEdgeStart+i*histEdgeWidth,a1=a0+histEdgeWidth;
  const r=mk('rect',{x:xS(a0),y:tS(c),width:xS(a1)-xS(a0),height:L.topBase-tS(c),fill:'#f26666'},g);
  
  
 });
 D.right.forEach((c,i)=>{
  if(c<=0)return;
  const v0=D.rStart+i*D.rW,v1=v0+D.rW;
  const r=mk('rect',{x:L.rx0,y:yS(v1),width:rS(c)-L.rx0,height:yS(v0)-yS(v1),fill:'#5b87b8'},g);
  
  
 });
 const n=Math.min(D.age.length,D.val.length);
 for(let i=0;i<n;i++){
  const c=mk('circle',{cx:xS(D.age[i]).toFixed(1),cy:yS(D.val[i]).toFixed(1),r:8.5,fill:'#9c9c9c'},g);
  
  
 }
 const hi=D.fa.map((a,i)=>[xS(a),yS(D.fh[i])]);
 const lo=D.fa.map((a,i)=>[xS(a),yS(D.fl[i])]).reverse();
 const band=mk('path',{d:`M${hi[0][0]},${hi[0][1]}`+smooth(hi)+` L${lo[0][0]},${lo[0][1]}`+smooth(lo)+' Z',fill:'#999','fill-opacity':0.4},g);
 
 
 const fp=D.fa.map((a,i)=>[xS(a),yS(D.fv[i])]);
 const fit=mk('path',{d:`M${fp[0][0]},${fp[0][1]}`+smooth(fp),fill:'none',stroke:'#6cbf62','stroke-width':5},g);
 
 
 const ya=mk('line',{x1:L.ax,x2:L.ax,y1:L.yTop,y2:L.ay+1,stroke:'#000','stroke-width':2.6},g);
 
 
 const xa=mk('line',{x1:L.ax-1,x2:L.xRight,y1:L.ay,y2:L.ay,stroke:'#000','stroke-width':2.6},g);
 
 
 const ta=mk('line',{x1:L.ax,x2:L.ax,y1:L.topAxTop,y2:L.topBase+4,stroke:'#000','stroke-width':2.6},g);
 
 
 const ra=mk('line',{x1:L.rAxL,x2:L.rAxR,y1:L.ay,y2:L.ay,stroke:'#000','stroke-width':2.6},g);
 
 
 scatterXTicks.forEach(t=>{
  const tm=mk('line',{x1:xS(t),x2:xS(t),y1:L.ay,y2:L.ay+8,stroke:'#000','stroke-width':2},g);
  
  
  const tl=mk('text',{x:xS(t),y:L.ay+37,'font-size':34,'text-anchor':'middle',class:'c'},g);
  tl.textContent=String(t);
  
  
 });
 D.yTicks.forEach(t=>{
  const tm=mk('line',{x1:L.ax-8,x2:L.ax,y1:yS(t),y2:yS(t),stroke:'#000','stroke-width':2},g);
  
  
  const tl=mk('text',{x:L.ax-13,y:yS(t)+12,'font-size':34,'text-anchor':'end',class:'c'},g);
  tl.textContent=D.yFmt?t.toFixed(1):String(t);
  
  
 });
 D.topTicks.forEach(t=>{
  const tm=mk('line',{x1:L.ax-8,x2:L.ax,y1:tS(t),y2:tS(t),stroke:'#000','stroke-width':2},g);
  
  
  const tl=mk('text',{x:L.ax-13,y:tS(t)+12,'font-size':34,'text-anchor':'end',class:'c'},g);
  tl.textContent=String(t);
  
  
 });
 D.rightTicks.forEach(t=>{
  const tm=mk('line',{x1:rS(t),x2:rS(t),y1:L.ay,y2:L.ay+8,stroke:'#000','stroke-width':2},g);
  
  
  const tl=mk('text',{x:rS(t),y:L.ay+37,'font-size':34,'text-anchor':'middle',class:'c'},g);
  tl.textContent=String(t);
  
  
 });
}

scatterPanel('g',{ax:119,ay:2691,x20:189,pxYr:13.57,yRef:2423,vRef:2,pxV:162.5,yTop:2076,topBase:2065,topPx:2.48,topAxTop:1947,rx0:950,rPx:9.29,rAxL:943,rAxR:1104,xRight:938},
 {age:gAge,val:gVal,fa:gFitAge,fv:gFitVal,fl:gFitLo,fh:gFitHi,top:gTopCounts,right:gRightCounts,rStart:gRightStart,rW:gRightWidth,yTicks:gYTicks,topTicks:gTopTicks,rightTicks:gRightTicks,yFmt:false});
scatterPanel('h',{ax:128,ay:3627,x20:199,pxYr:13.375,yRef:3546,vRef:2,pxV:247.5,yTop:3011,topBase:3000,topPx:1.2,topAxTop:2883,rx0:950,rPx:5.54,rAxL:943,rAxR:1104,xRight:938},
 {age:hAge,val:hVal,fa:hFitAge,fv:hFitVal,fl:hFitLo,fh:hFitHi,top:hTopCounts,right:hRightCounts,rStart:hRightStart,rW:hRightWidth,yTicks:hYTicks,topTicks:hTopTicks,rightTicks:hRightTicks,yFmt:true});
scatterPanel('i',{ax:1249,ay:3627,x20:1319,pxYr:13.45,yRef:3547,vRef:1.5,pxV:254.5,yTop:3011,topBase:3000,topPx:1.834,topAxTop:2883,rx0:2074,rPx:4.78,rAxL:2067,rAxR:2228,xRight:2060},
 {age:iAge,val:iVal,fa:iFitAge,fv:iFitVal,fl:iFitLo,fh:iFitHi,top:iTopCounts,right:iRightCounts,rStart:iRightStart,rW:iRightWidth,yTicks:iYTicks,topTicks:iTopTicks,rightTicks:iRightTicks,yFmt:true});
</script>
</body></html>
